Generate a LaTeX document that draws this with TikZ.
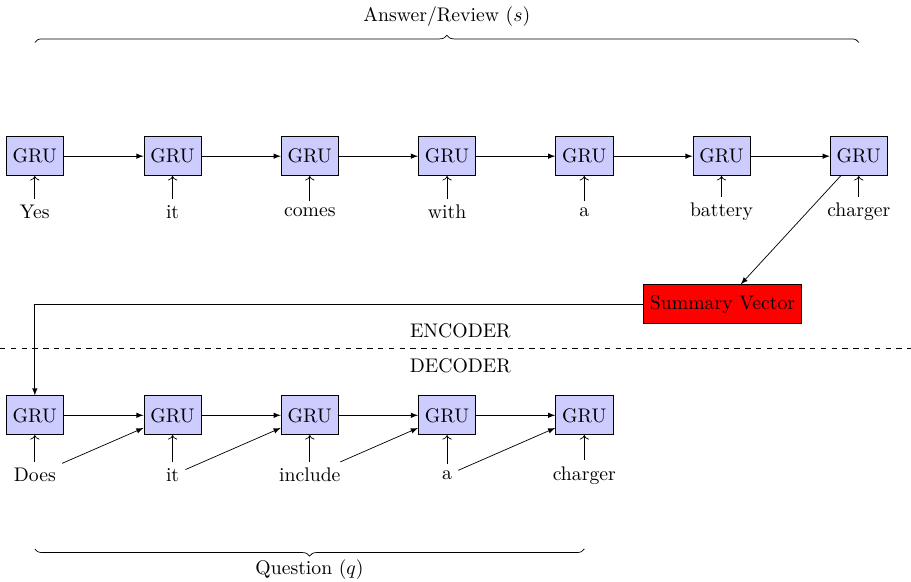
\documentclass[11pt,tikz,border=0pt]{standalone}
\usepackage{amsmath}
\usetikzlibrary{arrows.meta,positioning,decorations.pathreplacing}
\tikzset{
  gru/.style={draw, fill=blue!20, minimum width=1.12cm, minimum height=0.76cm},
  sumvec/.style={draw, fill=red, minimum height=0.76cm},
  word/.style={inner sep=3.33pt},
  flow/.style={-latex},
  feed/.style={->},
  brc/.style={decorate, decoration={brace, amplitude=4pt}}
}
\begin{document}
\begin{tikzpicture}
          \useasboundingbox (0,0) rectangle (17.79,11.35);
          % encoder row
          \node[gru] (g1) at (0.68,8.30) {GRU};
          \node[gru] (g2) at (3.37,8.30) {GRU};
          \node[gru] (g3) at (6.05,8.30) {GRU};
          \node[gru] (g4) at (8.73,8.30) {GRU};
          \node[gru] (g5) at (11.41,8.30) {GRU};
          \node[gru] (g6) at (14.09,8.30) {GRU};
          \node[gru] (g7) at (16.77,8.30) {GRU};
          \node[word] (w1) at (0.68,7.21) {Yes};
          \node[word] (w2) at (3.37,7.21) {it};
          \node[word] (w3) at (6.05,7.21) {comes};
          \node[word] (w4) at (8.73,7.21) {with};
          \node[word] (w5) at (11.41,7.21) {a};
          \node[word] (w6) at (14.09,7.21) {battery};
          \node[word] (w7) at (16.77,7.21) {charger};
          \draw[flow] (g1) -- (g2);
          \draw[flow] (g2) -- (g3);
          \draw[flow] (g3) -- (g4);
          \draw[flow] (g4) -- (g5);
          \draw[flow] (g5) -- (g6);
          \draw[flow] (g6) -- (g7);
          \draw[feed] (w1) -- (g1);
          \draw[feed] (w2) -- (g2);
          \draw[feed] (w3) -- (g3);
          \draw[feed] (w4) -- (g4);
          \draw[feed] (w5) -- (g5);
          \draw[feed] (w6) -- (g6);
          \draw[feed] (w7) -- (g7);
          % summary
          \node[sumvec] (sv) at (14.11,5.41) {Summary Vector};
          \draw[flow] (g7) -- (sv);
          % split
          \coordinate (cl) at (0,4.55);
          \coordinate (cr) at (17.79,4.55);
          \draw[dashed] (cl) -- (cr);
          \node[above=2pt] (enc) at (8.99,4.55) {ENCODER};
          \node[below=2pt] (dec) at (8.99,4.55) {DECODER};
          % decoder row
          \node[gru] (d1) at (0.68,3.24) {GRU};
          \node[gru] (d2) at (3.37,3.24) {GRU};
          \node[gru] (d3) at (6.05,3.24) {GRU};
          \node[gru] (d4) at (8.73,3.24) {GRU};
          \node[gru] (d5) at (11.41,3.24) {GRU};
          \node[word] (q1) at (0.68,2.07) {Does};
          \node[word] (q2) at (3.37,2.07) {it};
          \node[word] (q3) at (6.05,2.07) {include};
          \node[word] (q4) at (8.73,2.07) {a};
          \node[word] (q5) at (11.41,2.07) {charger};
          \draw[flow] (sv.west) -| (d1.north);
          \draw[flow] (d1) -- (d2);
          \draw[flow] (d2) -- (d3);
          \draw[flow] (d3) -- (d4);
          \draw[flow] (d4) -- (d5);
          \draw[feed] (q1) -- (d1);
          \draw[feed] (q2) -- (d2);
          \draw[feed] (q3) -- (d3);
          \draw[feed] (q4) -- (d4);
          \draw[feed] (q5) -- (d5);
          \draw[flow] (q1) -- (d2);
          \draw[flow] (q2) -- (d3);
          \draw[flow] (q3) -- (d4);
          \draw[flow] (q4) -- (d5);
          % braces
          \coordinate (ta) at (0.68,10.52);
          \coordinate (tb) at (16.77,10.52);
          \draw[brc] (ta) -- (tb) node[midway, above=5pt] (ans) {Answer/Review $(s)$};
          \coordinate (ba) at (11.41,0.63);
          \coordinate (bb) at (0.68,0.63);
          \draw[brc] (ba) -- (bb) node[midway, below=2pt] (qst) {Question $(q)$};
        \end{tikzpicture}
\end{document}
